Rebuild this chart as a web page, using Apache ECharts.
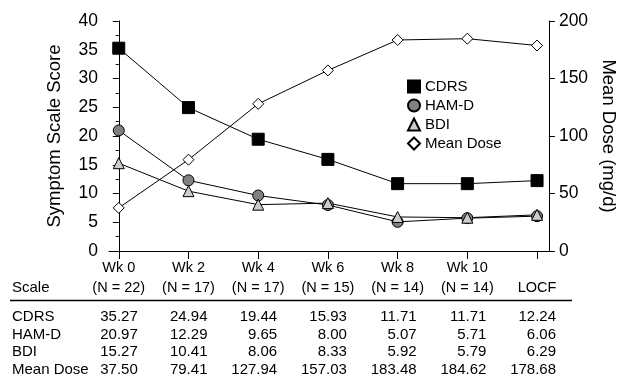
<!DOCTYPE html>
<html>
<head>
<meta charset="utf-8">
<script src="https://cdn.jsdelivr.net/npm/echarts@6/dist/echarts.min.js"></script>
<style>html,body{margin:0;padding:0;background:#fff;}#c{width:626px;height:381px;}</style>
</head>
<body>
<div id="c"></div>
<script>
var weeks = ['Wk 0', 'Wk 2', 'Wk 4', 'Wk 6', 'Wk 8', 'Wk 10', ''];
var nLabels = ['(N = 22)', '(N = 17)', '(N = 17)', '(N = 15)', '(N = 14)', '(N = 14)', 'LOCF'];
var cdrs = [35.27, 24.94, 19.44, 15.93, 11.71, 11.71, 12.24];
var hamd = [20.97, 12.29, 9.65, 8.00, 5.07, 5.71, 6.06];
var bdi = [15.27, 10.41, 8.06, 8.33, 5.92, 5.79, 6.29];
var meanDose = [37.50, 79.41, 127.94, 157.03, 183.48, 184.62, 178.68];
var leftTicks = [0, 5, 10, 15, 20, 25, 30, 35, 40];
var rightTicks = [0, 50, 100, 150, 200];

var FONT = '"Liberation Sans", Arial, sans-serif';
var idx = weeks.map(function (_, i) { return i; });
function pairs(arr) { return arr.map(function (v, i) { return [i, v]; }); }

var chart = echarts.init(document.getElementById('c'), null, { renderer: 'canvas' });
var option = {
  animation: false,
  backgroundColor: '#fff',
  textStyle: { fontFamily: FONT, color: '#000' },
  grid: { left: 109, right: 69, top: 21, bottom: 130, containLabel: false },
  legend: {
    orient: 'vertical', left: 407, top: 79, padding: 0, itemWidth: 12, itemHeight: 12, itemGap: 4,
    textStyle: { fontFamily: FONT, fontSize: 15, color: '#000' },
    data: [
      { name: 'CDRS', icon: 'rect' },
      { name: 'HAM-D', icon: 'circle' },
      { name: 'BDI', icon: 'triangle' },
      { name: 'Mean Dose', icon: 'diamond' }
    ]
  },
  xAxis: {
    type: 'value', min: -0.14, max: 6.17,
    axisLine: { show: true, onZero: false, lineStyle: { color: '#000', width: 1 } },
    axisTick: { show: true, customValues: idx, length: 8, lineStyle: { color: '#000' } },
    axisLabel: {
      customValues: idx, margin: 7, fontSize: 14.5, lineHeight: 20, color: '#000', fontFamily: FONT,
      formatter: function (v) { var i = Math.round(v); return weeks[i] + '\n' + nLabels[i]; }
    },
    splitLine: { show: false }
  },
  yAxis: [
    {
      type: 'value', min: 0, max: 40, interval: 5, position: 'left',
      name: 'Symptom Scale Score', nameLocation: 'middle', nameGap: 45,
      nameTextStyle: { fontSize: 18.5, fontFamily: FONT, color: '#000' },
      axisLine: { show: true, lineStyle: { color: '#000' } },
      axisTick: { show: true, length: 6, lineStyle: { color: '#000' } },
      minorTick: { show: true, splitNumber: 2, length: 3, lineStyle: { color: '#000' } },
      axisLabel: { fontSize: 17.5, margin: 11, color: '#000', fontFamily: FONT },
      splitLine: { show: false }
    },
    {
      type: 'value', min: 0, max: 200, interval: 50, position: 'right',
      name: 'Mean Dose (mg/d)', nameLocation: 'middle', nameGap: 40, nameRotate: -90,
      nameTextStyle: { fontSize: 18.5, fontFamily: FONT, color: '#000' },
      axisLine: { show: true, lineStyle: { color: '#000' } },
      axisTick: { show: true, length: 6, lineStyle: { color: '#000' } },
      axisLabel: { fontSize: 17.5, margin: 10, color: '#000', fontFamily: FONT },
      splitLine: { show: false }
    }
  ],
  series: [
    {
      name: 'CDRS', type: 'line', yAxisIndex: 0, data: pairs(cdrs),
      symbol: 'rect', symbolSize: 12, showAllSymbol: true,
      lineStyle: { color: '#000', width: 1 },
      itemStyle: { color: '#000', borderColor: '#000', borderWidth: 1 }
    },
    {
      name: 'HAM-D', type: 'line', yAxisIndex: 0, data: pairs(hamd),
      symbol: 'circle', symbolSize: 11, showAllSymbol: true,
      lineStyle: { color: '#000', width: 1 },
      itemStyle: { color: '#808080', borderColor: '#000', borderWidth: 1 }
    },
    {
      name: 'BDI', type: 'line', yAxisIndex: 0, data: pairs(bdi),
      symbol: 'triangle', symbolSize: 11, showAllSymbol: true,
      lineStyle: { color: '#000', width: 1 },
      itemStyle: { color: '#cccccc', borderColor: '#000', borderWidth: 1 }
    },
    {
      name: 'Mean Dose', type: 'line', yAxisIndex: 1, data: pairs(meanDose),
      symbol: 'diamond', symbolSize: 11, showAllSymbol: true,
      lineStyle: { color: '#000', width: 1 },
      itemStyle: { color: '#fff', borderColor: '#000', borderWidth: 1 }
    }
  ]
};
chart.setOption(option);

var rows = [
  { label: 'CDRS', vals: cdrs, y: 317 },
  { label: 'HAM-D', vals: hamd, y: 334.5 },
  { label: 'BDI', vals: bdi, y: 352 },
  { label: 'Mean Dose', vals: meanDose, y: 369.5 }
];
var TF = '15px ' + FONT;
var g = [];
g.push({ type: 'text', x: 12, y: 288, style: { text: 'Scale', font: TF, fill: '#000', textAlign: 'left', textVerticalAlign: 'middle' } });
g.push({ type: 'line', shape: { x1: 10, y1: 300.5, x2: 572, y2: 300.5 }, style: { stroke: '#000', lineWidth: 1.5 } });
rows.forEach(function (r) {
  g.push({ type: 'text', x: 12, y: r.y, style: { text: r.label, font: TF, fill: '#000', textAlign: 'left', textVerticalAlign: 'middle' } });
  r.vals.forEach(function (v, i) {
    var px = chart.convertToPixel({ xAxisIndex: 0 }, i);
    g.push({ type: 'text', x: px + 19, y: r.y, style: { text: v.toFixed(2), font: TF, fill: '#000', textAlign: 'right', textVerticalAlign: 'middle' } });
  });
});
chart.setOption({ graphic: g });
</script>
</body>
</html>
